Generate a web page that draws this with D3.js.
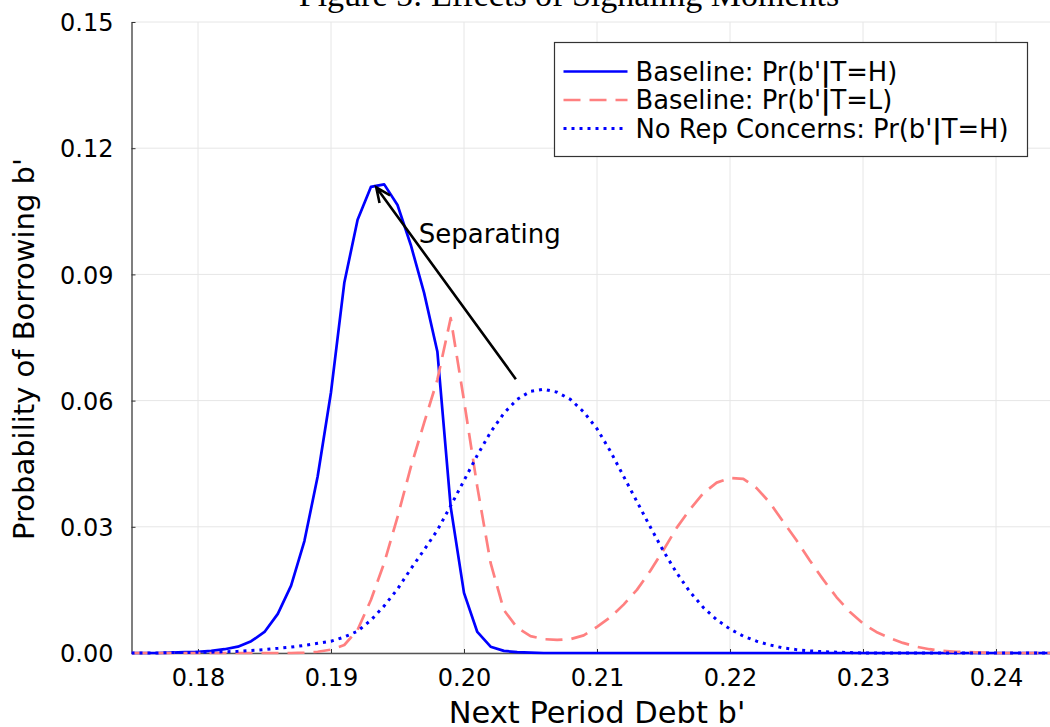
<!DOCTYPE html>
<html>
<head>
<meta charset="utf-8">
<script src="https://cdn.jsdelivr.net/npm/d3@7"></script>
<style>
	body { margin: 0; background: #fff; }
	svg { display: block; }
	text { font-family: "DejaVu Sans", sans-serif; }
</style>
</head>
<body>
<svg id="chart" width="1050" height="727"></svg>
<script>
//----------------------------------------------------------- DATA
var debt = [0.175,0.176,0.177,0.178,0.179,0.180,0.181,0.182,0.183,0.184,
	0.185,0.186,0.187,0.188,0.189,0.190,0.191,0.192,0.193,0.194,
	0.195,0.196,0.197,0.198,0.199,0.200,0.201,0.202,0.203,0.204,
	0.205,0.206,0.207,0.208,0.209,0.210,0.211,0.212,0.213,0.214,
	0.215,0.216,0.217,0.218,0.219,0.220,0.221,0.222,0.223,0.224,
	0.225,0.226,0.227,0.228,0.229,0.230,0.231,0.232,0.233,0.234,
	0.235,0.236,0.237,0.238,0.239,0.240,0.241,0.242,0.243,0.244,0.245];

var baselineH = [0,0,0,0.0001,0.0002,0.0003,0.0005,0.0009,0.0015,0.0028,
	0.0050,0.0093,0.0160,0.0266,0.0420,0.0620,0.0880,0.1030,0.1108,0.1114,
	0.1065,0.0970,0.0856,0.0716,0.0347,0.0143,0.0050,0.0015,0.0005,0.0002,
	0.0001,0,0,0,0,0,0,0,0,0,
	0,0,0,0,0,0,0,0,0,0,
	0,0,0,0,0,0,0,0,0,0,
	0,0,0,0,0,0,0,0,0,0,0];

var baselineL = [0,0,0,0,0,0,0,0,0,0,
	0,0,0,0.0001,0.0003,0.0008,0.0019,0.0055,0.0126,0.0214,
	0.0323,0.0442,0.0547,0.0650,0.0796,0.0600,0.0395,0.0214,0.0102,0.0060,
	0.0040,0.0033,0.0031,0.0033,0.0042,0.0062,0.0085,0.0115,0.0150,0.0195,
	0.0245,0.0298,0.0342,0.0380,0.0405,0.0416,0.0414,0.0392,0.0357,0.0312,
	0.0268,0.0220,0.0175,0.0133,0.0098,0.0070,0.0050,0.0036,0.0024,0.0015,
	0.0009,0.0005,0.0003,0.0002,0.0001,0,0,0,0,0,0];

var noRepH = [0,0,0,0.0001,0.0001,0.0002,0.0002,0.0003,0.0004,0.0006,
	0.0008,0.0011,0.0014,0.0018,0.0023,0.0028,0.0038,0.0052,0.0078,0.0112,
	0.0152,0.0200,0.0245,0.0292,0.0350,0.0410,0.0470,0.0525,0.0570,0.0603,
	0.0622,0.0627,0.0620,0.0603,0.0573,0.0533,0.0480,0.0420,0.0360,0.0300,
	0.0242,0.0190,0.0145,0.0108,0.0079,0.0057,0.0040,0.0028,0.0019,0.0012,
	0.0008,0.0005,0.0003,0.0002,0.0001,0,0,0,0,0,
	0,0,0,0,0,0,0,0,0,0,0];

var xTicks = [0.18,0.19,0.20,0.21,0.22,0.23,0.24];
var yTicks = [0.00,0.03,0.06,0.09,0.12,0.15];

var seriesNames = ["Baseline: Pr(b'|T=H)","Baseline: Pr(b'|T=L)","No Rep Concerns: Pr(b'|T=H)"];

// arrow: from (debt, prob) to (debt, prob)
var arrowFrom = [0.2039, 0.0651];
var arrowTo = [0.1934, 0.1107];
var arrowLabel = "Separating";
var labelAt = [0.1966, 0.0998];

//----------------------------------------------------------- SETUP
var svg = d3.select("#chart");
var pLeft = 131.5, pRight = 1062.5, pTop = 22, pBottom = 653;

var x = d3.scaleLinear().domain([0.175,0.245]).range([pLeft,pRight]);
var y = d3.scaleLinear().domain([0,0.15]).range([pBottom,pTop]);

// title (clipped by the top of the page)
svg.append("text")
	.attr("x",569).attr("y",6)
	.attr("text-anchor","middle")
	.style("font-family","'Liberation Serif', 'DejaVu Serif', serif")
	.attr("font-size",34)
	.text("Figure 5: Effects of Signaling Moments");

//----------------------------------------------------------- GRID
svg.append("g").selectAll("line.gx").data(xTicks).enter()
	.append("line").attr("class","gx")
		.attr("x1",(d)=>x(d)).attr("x2",(d)=>x(d))
		.attr("y1",pTop).attr("y2",pBottom)
		.attr("stroke","#e6e6e6").attr("stroke-width",1);

svg.append("g").selectAll("line.gy").data(yTicks).enter()
	.append("line").attr("class","gy")
		.attr("x1",pLeft).attr("x2",pRight)
		.attr("y1",(d)=>y(d)).attr("y2",(d)=>y(d))
		.attr("stroke","#e6e6e6").attr("stroke-width",1);

//----------------------------------------------------------- AXES
var xAxis = d3.axisBottom(x).tickValues(xTicks).tickFormat(d3.format(".2f")).tickSizeInner(-4).tickSizeOuter(0).tickPadding(16);
var yAxis = d3.axisLeft(y).tickValues(yTicks).tickFormat(d3.format(".2f")).tickSizeInner(-4).tickSizeOuter(0).tickPadding(18);

var gx = svg.append("g").attr("transform","translate(0,"+pBottom+")").call(xAxis);
var gy = svg.append("g").attr("transform","translate("+pLeft+",0)").call(yAxis);

[gx,gy].forEach(function(g){
	g.select(".domain").attr("stroke","#555").attr("stroke-width",1.5);
	g.selectAll(".tick line").attr("stroke","#333").attr("stroke-width",1);
	g.selectAll(".tick text").attr("font-size",24).attr("fill","#000")
		.style("font-family","'DejaVu Sans', sans-serif");
});
gy.selectAll(".tick text").attr("dy","0.36em");

svg.append("text")
	.attr("x",(pLeft+pRight)/2).attr("y",723)
	.attr("text-anchor","middle").attr("font-size",30.5)
	.text("Next Period Debt b'");

svg.append("text")
	.attr("transform","translate(34,349) rotate(-90)")
	.attr("text-anchor","middle").attr("font-size",29)
	.text("Probability of Borrowing b'");

//----------------------------------------------------------- LINES
var styles = [
	{values:baselineH, color:"#0000ff", dash:null, width:2.7},
	{values:baselineL, color:"#ff8080", dash:"17,9", width:2.7},
	{values:noRepH, color:"#0000ff", dash:"3,5", width:3}
];

svg.append("clipPath").attr("id","plotclip")
	.append("rect").attr("x",pLeft).attr("y",pTop-2).attr("width",pRight-pLeft).attr("height",pBottom-pTop+4);

var line = d3.line().x((d)=>x(d[0])).y((d)=>y(d[1]));

svg.append("g").attr("clip-path","url(#plotclip)")
	.selectAll("path.series").data(styles).enter()
	.append("path").attr("class","series")
		.attr("d",(s)=>line(debt.map((b,i)=>[b,s.values[i]])))
		.attr("fill","none")
		.attr("stroke",(s)=>s.color)
		.attr("stroke-width",(s)=>s.width)
		.attr("stroke-dasharray",(s)=>s.dash)
		.attr("stroke-linejoin","round");

//----------------------------------------------------------- ANNOTATION
var ax0 = x(arrowFrom[0]), ay0 = y(arrowFrom[1]), ax1 = x(arrowTo[0]), ay1 = y(arrowTo[1]);
var ang = Math.atan2(ay1-ay0, ax1-ax0), head = 16, spread = 0.42;
svg.append("path")
	.attr("d","M"+ax0+","+ay0+" L"+ax1+","+ay1
		+" M"+(ax1-head*Math.cos(ang-spread))+","+(ay1-head*Math.sin(ang-spread))
		+" L"+ax1+","+ay1
		+" L"+(ax1-head*Math.cos(ang+spread))+","+(ay1-head*Math.sin(ang+spread)))
	.attr("fill","none").attr("stroke","#000").attr("stroke-width",2.6);

svg.append("text")
	.attr("x",x(labelAt[0])).attr("y",y(labelAt[1]))
	.attr("dy","0.36em").attr("font-size",26)
	.text(arrowLabel);

//----------------------------------------------------------- LEGEND
var legend = svg.append("g").attr("transform","translate(554.5,42.5)");
legend.append("rect").attr("width",473).attr("height",114)
	.attr("fill","#fff").attr("stroke","#333").attr("stroke-width",1.2);

var rows = legend.selectAll("g.row").data(styles).enter()
	.append("g").attr("class","row")
	.attr("transform",(d,i)=>"translate(0,"+(29+i*28.5)+")");

rows.append("line").attr("x1",9).attr("x2",73).attr("y1",0).attr("y2",0)
	.attr("stroke",(s)=>s.color).attr("stroke-width",(s)=>s.width)
	.attr("stroke-dasharray",(s)=>s.dash);

rows.append("text").attr("x",81).attr("dy","0.36em").attr("font-size",25.8)
	.each(function(s,i){
		var parts = seriesNames[i].split("|");
		var t = d3.select(this);
		t.append("tspan").text(parts[0]);
		t.append("tspan").attr("font-weight","bold").text("|");
		t.append("tspan").text(parts[1]);
	});
</script>
</body>
</html>
